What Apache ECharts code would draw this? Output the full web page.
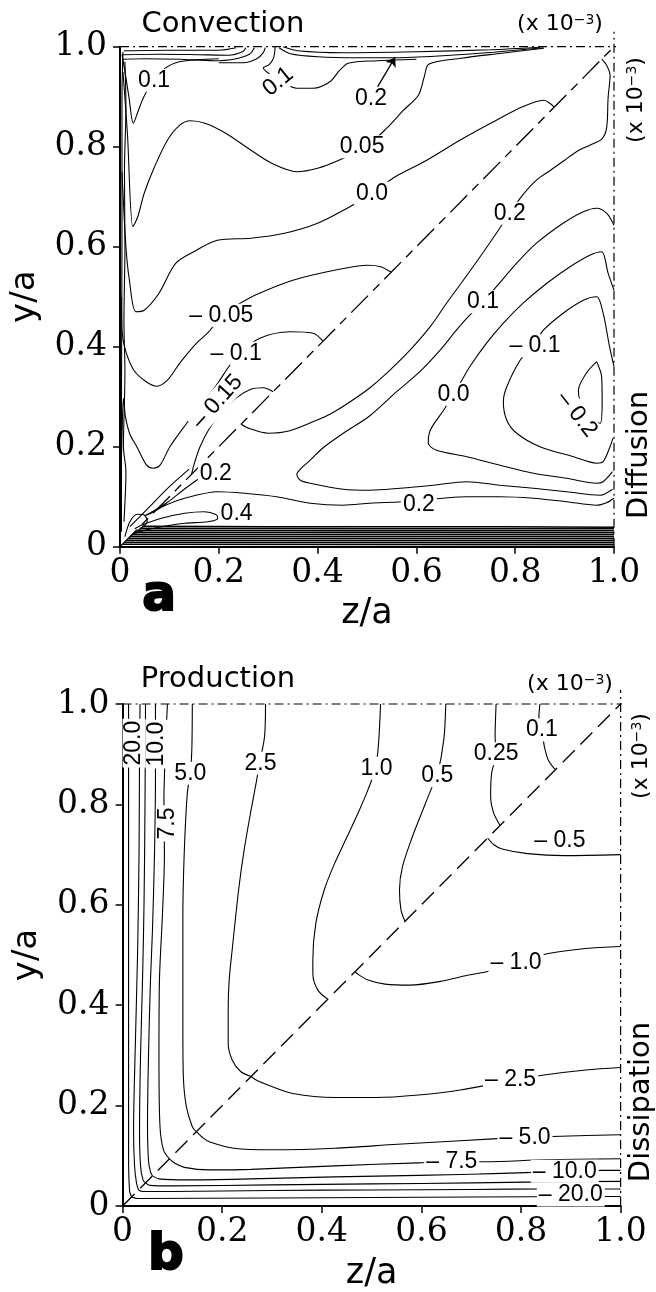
<!DOCTYPE html>
<html>
<head>
<meta charset="utf-8">
<script src="https://cdn.jsdelivr.net/npm/echarts@6.0.0/dist/echarts.min.js"></script>
<style>
  html, body { margin: 0; padding: 0; background: #fff; }
  #chart { width: 656px; height: 1292px; }
</style>
</head>
<body>
<div id="chart"></div>
<script>
// Axis tick labels (both axes, both panels)
const tickLabels = ['0', '0.2', '0.4', '0.6', '0.8', '1.0'];

// ---------------- Panel a: convection (above diagonal) / diffusion (below) ----------------
// Contour polylines in (z/a, y/a), units of 1e-3

// convection
const convP010Wall = [[0.004,0.985],[0.010,0.95],[0.018,0.90],[0.027,0.847],[0.037,0.872],[0.047,0.897],[0.067,0.933],[0.090,0.956],[0.120,0.970],[0.200,0.976]];
const convP010Top = [[0.314,1.0],[0.311,0.978],[0.302,0.964],[0.290,0.958],[0.320,0.935],[0.357,0.917],[0.391,0.917],[0.425,0.930],[0.445,0.953],[0.462,0.967],[0.520,0.972],[0.600,0.975]];
const convP020Top = [[0.322,0.998],[0.345,0.986],[0.400,0.980],[0.480,0.978],[0.557,0.978],[0.654,0.982],[0.756,0.989],[0.857,0.998]];
const convP005 = [[0.006,0.95],[0.015,0.827],[0.026,0.64],[0.036,0.66],[0.049,0.707],[0.070,0.76],[0.096,0.813],[0.121,0.843],[0.142,0.852],[0.172,0.847],[0.214,0.827],[0.265,0.793],[0.307,0.767],[0.358,0.75],[0.400,0.757],[0.443,0.773],[0.498,0.80],[0.540,0.837],[0.574,0.873],[0.604,0.903],[0.616,0.94],[0.625,0.965],[0.690,0.977],[0.773,0.987],[0.858,0.997]];
const convZero = [[0.004,0.75],[0.012,0.60],[0.019,0.533],[0.032,0.47],[0.049,0.473],[0.079,0.507],[0.113,0.567],[0.155,0.593],[0.197,0.613],[0.265,0.617],[0.333,0.627],[0.400,0.647],[0.460,0.677],[0.511,0.707],[0.557,0.74],[0.621,0.773],[0.688,0.813],[0.756,0.85],[0.815,0.88],[0.858,0.893],[0.870,0.887],[0.879,0.879]];
const convM005 = [[0.003,0.50],[0.004,0.433],[0.011,0.393],[0.028,0.353],[0.053,0.33],[0.075,0.321],[0.096,0.333],[0.121,0.367],[0.155,0.407],[0.180,0.43],[0.206,0.463],[0.240,0.485],[0.273,0.503],[0.350,0.533],[0.434,0.553],[0.502,0.563],[0.528,0.56],[0.549,0.549]];
const convM010 = [[0.002,0.14],[0.004,0.22],[0.007,0.297],[0.011,0.26],[0.020,0.225],[0.034,0.20],[0.054,0.163],[0.067,0.157],[0.081,0.163],[0.101,0.20],[0.135,0.247],[0.155,0.273],[0.176,0.298],[0.200,0.33],[0.220,0.36],[0.240,0.385],[0.283,0.417],[0.344,0.43],[0.391,0.427],[0.411,0.411]];
const convM015 = [[0.145,0.145],[0.150,0.165],[0.162,0.20],[0.180,0.235],[0.200,0.262],[0.236,0.298],[0.265,0.315],[0.290,0.318],[0.310,0.31]];

// near-wall and top boundary-layer contours (convection)
const convWallA = [[0.003,0.03],[0.003,0.30],[0.004,0.60],[0.004,0.90],[0.006,0.99]];
const convWallB = [[0.008,0.05],[0.012,0.15],[0.007,0.20],[0.010,0.35],[0.008,0.45],[0.010,0.60],[0.009,0.75],[0.012,0.88],[0.010,0.97]];
const convTopA = [[0.006,0.975],[0.050,0.976],[0.120,0.975],[0.190,0.972],[0.230,0.975],[0.262,0.985],[0.272,0.998]];
const convTopB = [[0.006,0.984],[0.080,0.985],[0.160,0.984],[0.220,0.983],[0.248,0.990],[0.255,0.998]];
const convTopC = [[0.008,0.992],[0.100,0.993],[0.200,0.993],[0.235,0.998]];
const convTopD = [[0.200,0.968],[0.250,0.968],[0.277,0.976],[0.290,0.988],[0.294,0.998]];
const convTopE = [[0.330,1.0],[0.360,0.992],[0.450,0.988],[0.600,0.990],[0.750,0.994],[0.850,0.999]];

// diffusion
const diffP020 = [[0.245,0.245],[0.263,0.236],[0.300,0.227],[0.344,0.232],[0.398,0.253],[0.425,0.265],[0.466,0.29],[0.506,0.318],[0.540,0.347],[0.587,0.393],[0.628,0.44],[0.661,0.487],[0.695,0.533],[0.729,0.58],[0.766,0.633],[0.789,0.667],[0.815,0.703],[0.843,0.733],[0.870,0.752],[0.900,0.773],[0.924,0.79],[0.951,0.803],[0.975,0.815],[0.985,0.837],[0.988,0.897],[0.992,0.943],[0.985,0.963],[0.975,0.975]];
const diffP010 = [[1.0,0.643],[0.985,0.667],[0.965,0.677],[0.938,0.67],[0.897,0.647],[0.843,0.607],[0.803,0.567],[0.762,0.52],[0.735,0.49],[0.705,0.46],[0.681,0.433],[0.648,0.393],[0.607,0.35],[0.560,0.31],[0.506,0.262],[0.452,0.227],[0.410,0.197],[0.385,0.173],[0.365,0.155],[0.358,0.145],[0.365,0.133],[0.385,0.127],[0.452,0.115],[0.506,0.113],[0.567,0.117],[0.634,0.123],[0.702,0.13],[0.769,0.123],[0.837,0.117],[0.904,0.11],[0.972,0.103],[0.997,0.115]];
const diffZero = [[1.0,0.513],[0.988,0.547],[0.975,0.59],[0.951,0.583],[0.911,0.56],[0.864,0.527],[0.816,0.487],[0.776,0.447],[0.742,0.407],[0.708,0.36],[0.692,0.333],[0.675,0.305],[0.655,0.273],[0.628,0.233],[0.624,0.207],[0.641,0.193],[0.702,0.18],[0.769,0.163],[0.837,0.147],[0.904,0.137],[0.965,0.127],[0.978,0.13],[0.997,0.15]];
const diffM010 = [[1.0,0.36],[0.991,0.40],[0.978,0.467],[0.965,0.50],[0.938,0.493],[0.897,0.467],[0.857,0.433],[0.840,0.407],[0.810,0.373],[0.783,0.32],[0.776,0.29],[0.783,0.253],[0.803,0.227],[0.850,0.20],[0.918,0.18],[0.965,0.167],[0.978,0.17],[0.992,0.20],[0.998,0.217]];
const diffM020 = [[0.965,0.37],[0.944,0.347],[0.928,0.313],[0.935,0.28],[0.955,0.255],[0.972,0.247],[0.976,0.29],[0.975,0.34],[0.965,0.37]];
const diffP020Low = [[0.165,0.14],[0.130,0.115],[0.095,0.088],[0.065,0.07],[0.050,0.062],[0.063,0.067],[0.090,0.082],[0.131,0.097],[0.198,0.11],[0.252,0.107],[0.317,0.10],[0.385,0.087],[0.452,0.083],[0.506,0.087],[0.570,0.09],[0.654,0.097],[0.702,0.10],[0.769,0.10],[0.837,0.097],[0.904,0.09],[0.965,0.083],[0.985,0.088],[1.0,0.097]];
const diffP040 = [[0.030,0.036],[0.043,0.043],[0.084,0.057],[0.131,0.067],[0.171,0.07],[0.195,0.064],[0.198,0.057],[0.178,0.05],[0.131,0.047],[0.084,0.04],[0.050,0.033],[0.030,0.027]];
const diffCornerLobe = [[0.010,0.02],[0.020,0.05],[0.035,0.065],[0.050,0.063],[0.055,0.05],[0.040,0.035],[0.020,0.02]];
const diffDiagHug = [[0.020,0.04],[0.060,0.08],[0.100,0.12],[0.140,0.155]];

// diffusion boundary layer along the bottom wall
const diffWall1 = [[0.045,0.041],[0.300,0.040],[0.600,0.040],[1.0,0.039]];
const diffWall2 = [[0.040,0.037],[0.500,0.036],[1.0,0.036]];
const diffWall3 = [[0.035,0.033],[0.500,0.032],[1.0,0.032]];
const diffWall4 = [[0.030,0.029],[1.0,0.028]];
const diffWall5 = [[0.026,0.025],[1.0,0.024]];
const diffWall6 = [[0.022,0.021],[1.0,0.020]];
const diffWall7 = [[0.018,0.017],[1.0,0.016]];
const diffWall8 = [[0.014,0.013],[1.0,0.012]];
const diffWall9 = [[0.010,0.009],[1.0,0.008]];
const diffWall10 = [[0.006,0.005],[1.0,0.004]];

// contour labels: [z/a, y/a, level]
const panelALabels = [
  [0.069,0.933,0.1],[0.320,0.930,0.1],[0.508,0.897,0.2],[0.490,0.800,0.05],[0.510,0.707,0.0],
  [0.205,0.463,-0.05],[0.235,0.387,-0.1],[0.197,0.290,-0.15],
  [0.789,0.667,0.2],[0.735,0.490,0.1],[0.675,0.305,0.0],[0.840,0.402,-0.1],[0.925,0.265,-0.2],
  [0.194,0.147,0.2],[0.605,0.085,0.2],[0.236,0.067,0.4]
];
const panelALabelAngles = [0,39,0,0,0, 0,0,48, 0,0,0,0,-52, 0,0,0];
const panelAArrow = [[0.520,0.917],[0.557,0.979]];

// ---------------- Panel b: production (above diagonal) / dissipation (below) ----------------
const prodWall = [[0.012,1.0],[0.012,0.5],[0.012,0.1],[0.014,0.03],[0.018,0.018]];
const prod200 = [[0.035,1.0],[0.034,0.9],[0.033,0.7],[0.030,0.5],[0.025,0.3],[0.022,0.15],[0.024,0.08],[0.028,0.045],[0.032,0.032]];
const prod150 = [[0.046,1.0],[0.045,0.8],[0.043,0.6],[0.040,0.45],[0.036,0.3],[0.034,0.15],[0.036,0.08],[0.041,0.052],[0.046,0.046]];
const prod100 = [[0.066,1.0],[0.066,0.85],[0.064,0.7],[0.060,0.55],[0.056,0.45],[0.052,0.3],[0.050,0.16],[0.052,0.09],[0.056,0.068],[0.060,0.06]];
const prod075 = [[0.090,1.0],[0.087,0.935],[0.083,0.808],[0.084,0.70],[0.080,0.58],[0.074,0.45],[0.073,0.3],[0.075,0.16],[0.082,0.112],[0.094,0.094]];
const prod050 = [[0.140,1.0],[0.139,0.909],[0.136,0.862],[0.130,0.823],[0.124,0.709],[0.121,0.576],[0.121,0.45],[0.121,0.357],[0.122,0.258],[0.128,0.198],[0.140,0.158],[0.148,0.148]];
const prod025 = [[0.287,1.0],[0.285,0.935],[0.275,0.882],[0.268,0.842],[0.258,0.789],[0.244,0.709],[0.233,0.63],[0.220,0.51],[0.214,0.45],[0.212,0.39],[0.212,0.324],[0.220,0.291],[0.237,0.268],[0.258,0.258]];
const prod010 = [[0.518,1.0],[0.514,0.922],[0.508,0.873],[0.493,0.83],[0.476,0.79],[0.451,0.736],[0.426,0.683],[0.405,0.63],[0.388,0.563],[0.382,0.49],[0.382,0.463],[0.392,0.43],[0.412,0.412]];
const prod005 = [[0.649,1.0],[0.645,0.929],[0.632,0.859],[0.619,0.829],[0.603,0.789],[0.582,0.736],[0.562,0.676],[0.556,0.63],[0.559,0.59],[0.567,0.567]];
const prod0025 = [[0.750,1.0],[0.748,0.935],[0.750,0.902],[0.741,0.862],[0.739,0.816],[0.745,0.783],[0.758,0.758]];
const prod001 = [[0.838,1.0],[0.836,0.975],[0.842,0.948],[0.847,0.915],[0.855,0.888],[0.869,0.869]];

const dissWall = [[0.018,0.018],[0.030,0.015],[0.300,0.016],[0.700,0.018],[1.0,0.019]];
const dissM200 = [[0.032,0.032],[0.040,0.029],[0.100,0.029],[0.300,0.031],[0.500,0.032],[0.700,0.033],[0.850,0.034],[1.0,0.034]];
const dissM150 = [[0.046,0.046],[0.055,0.041],[0.100,0.040],[0.300,0.042],[0.500,0.044],[0.700,0.046],[0.850,0.048],[1.0,0.049]];
const dissM100 = [[0.060,0.06],[0.073,0.054],[0.132,0.052],[0.258,0.054],[0.426,0.058],[0.594,0.061],[0.762,0.065],[0.888,0.069],[0.964,0.071],[1.0,0.071]];
const dissM075 = [[0.094,0.094],[0.105,0.085],[0.124,0.077],[0.174,0.072],[0.258,0.073],[0.426,0.08],[0.594,0.086],[0.661,0.088],[0.729,0.088],[0.846,0.092],[1.0,0.094]];
const dissM050 = [[0.148,0.148],[0.160,0.137],[0.174,0.128],[0.224,0.115],[0.300,0.112],[0.426,0.115],[0.552,0.123],[0.678,0.13],[0.808,0.137],[0.880,0.139],[1.0,0.142]];
const dissM025 = [[0.258,0.258],[0.270,0.25],[0.292,0.241],[0.342,0.224],[0.426,0.216],[0.510,0.216],[0.594,0.221],[0.678,0.231],[0.779,0.25],[0.846,0.261],[0.930,0.271],[1.0,0.276]];
const dissM010 = [[0.467,0.467],[0.472,0.462],[0.493,0.45],[0.527,0.442],[0.577,0.44],[0.636,0.447],[0.695,0.46],[0.733,0.467],[0.790,0.485],[0.855,0.503],[0.930,0.513],[1.0,0.517]];
const dissM005 = [[0.733,0.733],[0.745,0.72],[0.762,0.711],[0.813,0.702],[0.888,0.698],[1.0,0.70]];

const panelBLabels = [
  [0.023,0.922,20],[0.069,0.920,10],[0.090,0.762,7.5],[0.136,0.862,5],[0.277,0.882,2.5],
  [0.510,0.872,1],[0.632,0.857,0.5],[0.750,0.901,0.25],[0.842,0.948,0.1],
  [0.878,0.727,-0.5],[0.790,0.485,-1],[0.779,0.252,-2.5],[0.808,0.137,-5],
  [0.661,0.088,-7.5],[0.888,0.069,-10],[0.900,0.022,-20]
];
const panelBLabelAngles = [90,90,90,0,0, 0,0,0,0, 0,0,0,0, 0,0,0];

// -------------------------------------------------------------------------------------------
const panelAContours = [convP010Wall, convP010Top, convP020Top, convP005, convZero, convM005, convM010, convM015,
  convWallA, convWallB, convTopA, convTopB, convTopC, convTopD, convTopE,
  diffP020, diffP010, diffZero, diffM010, diffM020, diffP020Low, diffP040, diffCornerLobe, diffDiagHug];
const panelAWallBand = [diffWall1, diffWall2, diffWall3, diffWall4, diffWall5, diffWall6, diffWall7, diffWall8, diffWall9, diffWall10];
const panelBContours = [prodWall, prod200, prod150, prod100, prod075, prod050, prod025, prod010, prod005, prod0025, prod001,
  dissWall, dissM200, dissM150, dissM100, dissM075, dissM050, dissM025, dissM010, dissM005];

function levelText(v) {
  const a = Math.abs(v);
  let s = String(a);
  if (s.indexOf('.') < 0) s = a.toFixed(1);
  return (v < 0 ? '– ' : '') + s;
}

function contourSeries(pts, gi, width) {
  return {
    type: 'line', xAxisIndex: gi, yAxisIndex: gi, data: pts,
    symbol: 'none', smooth: 0.3, silent: true, z: 2,
    lineStyle: { color: '#000', width: width || 1.1, opacity: 1 }
  };
}

function labelSeries(labels, angles, gi) {
  return {
    type: 'scatter', xAxisIndex: gi, yAxisIndex: gi, symbolSize: 0, silent: true, z: 5,
    itemStyle: { opacity: 1, color: '#000' },
    data: labels.map((l, i) => ({ value: l, label: { rotate: angles[i] } })),
    label: {
      show: true, position: 'inside', color: '#000', opacity: 1,
      fontFamily: 'Liberation Sans', fontSize: 23,
      backgroundColor: '#fff', padding: [0, 2, 0, 2],
      formatter: p => levelText(p.value[2])
    }
  };
}

function frameSeries(gi, topEnd, rightEnd, diagDash) {
  const dashDot = [9, 4, 2, 4];
  const base = { type: 'line', xAxisIndex: gi, yAxisIndex: gi, symbol: 'none', silent: true, clip: false, z: 3 };
  return [
    Object.assign({}, base, { data: [[0, 1], [topEnd, 1]], lineStyle: { color: '#000', width: 1.2, type: dashDot } }),
    Object.assign({}, base, { data: [[1, 0], [1, rightEnd]], lineStyle: { color: '#000', width: 1.2, type: dashDot } }),
    Object.assign({}, base, { data: [[0, 0], [1, 1]], lineStyle: { color: '#000', width: 1.3, type: diagDash } })
  ];
}

function axisX(gi) {
  return {
    gridIndex: gi, type: 'value', min: 0, max: 1, interval: 0.2,
    splitLine: { show: false },
    axisLine: { show: true, onZero: false, lineStyle: { color: '#000', width: 2 } },
    axisTick: { show: true, length: 7, lineStyle: { color: '#000', width: 1.5 } },
    axisLabel: { color: '#000', fontFamily: 'DejaVu Serif', fontSize: 33, margin: 10,
      formatter: v => tickLabels[Math.round(v / 0.2)] },
    name: 'z/a', nameLocation: 'middle', nameGap: 50,
    nameTextStyle: { color: '#000', fontFamily: 'DejaVu Sans', fontSize: 35 }
  };
}
function axisY(gi) {
  return {
    gridIndex: gi, type: 'value', min: 0, max: 1, interval: 0.2,
    splitLine: { show: false },
    axisLine: { show: true, onZero: false, lineStyle: { color: '#000', width: 2 } },
    axisTick: { show: true, length: 7, lineStyle: { color: '#000', width: 1.5 } },
    axisLabel: { color: '#000', fontFamily: 'DejaVu Serif', fontSize: 33, margin: 13,
      formatter: v => tickLabels[Math.round(v / 0.2)] },
    name: 'y/a', nameLocation: 'middle', nameGap: 78,
    nameTextStyle: { color: '#000', fontFamily: 'DejaVu Sans', fontSize: 34 }
  };
}

const sansText = (text, x, y, size, rot) => ({
  type: 'text', x: x, y: y, rotation: rot || 0, silent: true,
  style: {
    text: text, fontFamily: 'DejaVu Sans', fontSize: size, fill: '#000',
    align: 'center', verticalAlign: 'middle',
    rich: { s: { fontFamily: 'DejaVu Sans', fontSize: 14, verticalAlign: 'top', fill: '#000' } }
  }
});
const panelLetter = (text, x, y) => ({
  type: 'text', x: x, y: y, silent: true,
  style: { text: text, fontFamily: 'DejaVu Sans', fontWeight: 'bold', fontSize: 50,
    fill: '#000', stroke: '#000', lineWidth: 2, align: 'center', verticalAlign: 'middle' }
});

const series = [];
panelAContours.forEach(c => series.push(contourSeries(c, 0)));
panelAWallBand.forEach(c => series.push(contourSeries(c, 0, 1.5)));
frameSeries(0, 1.07, 1.03, [24, 7, 9, 7]).forEach(s => series.push(s));
series.push({
  type: 'lines', coordinateSystem: 'cartesian2d', xAxisIndex: 0, yAxisIndex: 0, silent: true, z: 4,
  symbol: ['none', 'arrow'], symbolSize: 9,
  lineStyle: { color: '#000', width: 1.3, opacity: 1 },
  data: [{ coords: panelAArrow }]
});
series.push(labelSeries(panelALabels, panelALabelAngles, 0));

panelBContours.forEach(c => series.push(contourSeries(c, 1)));
frameSeries(1, 1.03, 1.028, [17, 8]).forEach(s => series.push(s));
series.push(labelSeries(panelBLabels, panelBLabelAngles, 1));

const chart = echarts.init(document.getElementById('chart'), null, { renderer: 'canvas' });
chart.setOption({
  animation: false,
  backgroundColor: '#fff',
  grid: [
    { left: 120, top: 46.7, width: 494, height: 500 },
    { left: 122.6, top: 704, width: 498, height: 502 }
  ],
  xAxis: [axisX(0), axisX(1)],
  yAxis: [axisY(0), axisY(1)],
  series: series,
  graphic: [
    sansText('Convection', 223, 24, 29),
    sansText('(x 10{s|−3})', 560, 24, 22),
    sansText('(x 10{s|−3})', 636, 100, 22, Math.PI / 2),
    sansText('Diffusion', 639, 455, 29, Math.PI / 2),
    panelLetter('a', 159, 597),
    sansText('Production', 218, 679, 29),
    sansText('(x 10{s|−3})', 570, 684, 22),
    sansText('(x 10{s|−3})', 641, 756, 22, Math.PI / 2),
    sansText('Dissipation', 641, 1102, 29, Math.PI / 2),
    panelLetter('b', 166, 1256)
  ]
});
</script>
</body>
</html>
